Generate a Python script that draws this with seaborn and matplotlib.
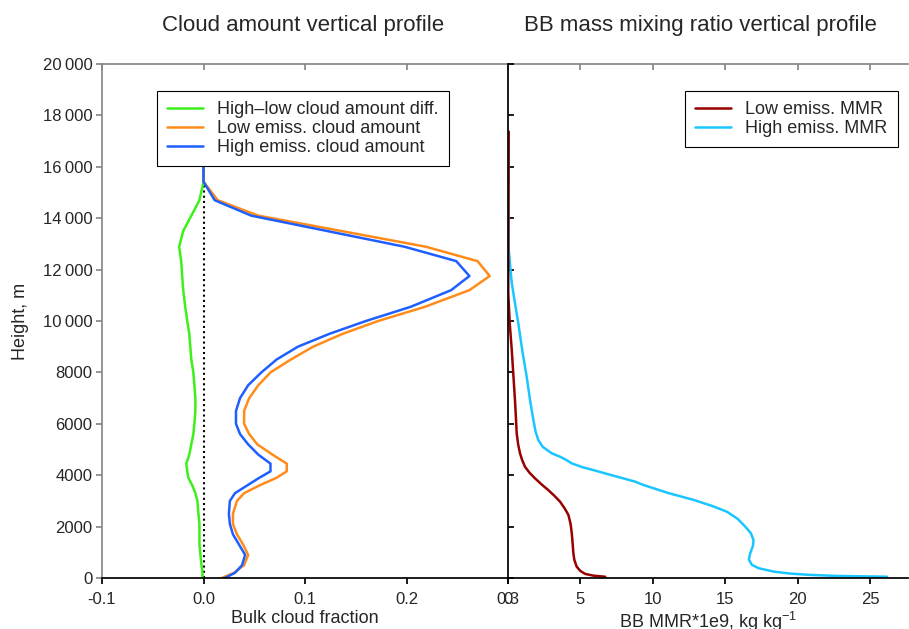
import matplotlib
matplotlib.use("Agg")
import matplotlib.pyplot as plt
import matplotlib.ticker as mticker
import numpy as np
import seaborn as sns

# cloud amount profiles (height in m, bulk cloud fraction)
cloud_height = [0, 200, 500, 900, 1300, 1700, 2100, 2500, 3000, 3300, 3600, 3900,
                4150, 4450, 4800, 5200, 5600, 6000, 6500, 7000, 7500, 8000, 8500,
                9000, 9500, 10000, 10550, 11200, 11750, 12330, 12890, 13500, 14100,
                14700, 15420, 16000]
low_cloud = [0.018, 0.030, 0.040, 0.044, 0.039, 0.033, 0.029, 0.029, 0.033, 0.040,
             0.055, 0.072, 0.082, 0.082, 0.068, 0.053, 0.045, 0.040, 0.040, 0.045,
             0.054, 0.066, 0.086, 0.108, 0.137, 0.172, 0.218, 0.262, 0.282, 0.270,
             0.219, 0.136, 0.054, 0.014, 0.0, 0.0]
high_cloud = [0.021, 0.031, 0.038, 0.041, 0.035, 0.029, 0.026, 0.025, 0.026, 0.031,
              0.043, 0.055, 0.066, 0.066, 0.054, 0.044, 0.036, 0.032, 0.032, 0.036,
              0.044, 0.057, 0.072, 0.093, 0.124, 0.160, 0.204, 0.244, 0.262, 0.249,
              0.198, 0.122, 0.047, 0.011, 0.0, 0.0]
diff_cloud = [-0.001, -0.001, -0.002, -0.003, -0.004, -0.004, -0.004, -0.005, -0.006,
              -0.008, -0.011, -0.015, -0.016, -0.017, -0.014, -0.012, -0.010, -0.009,
              -0.008, -0.008, -0.009, -0.010, -0.012, -0.013, -0.014, -0.016, -0.018,
              -0.020, -0.021, -0.022, -0.024, -0.020, -0.012, -0.004, 0.0, 0.0]
zero_line = [0.0] * len(cloud_height)

# BB mass mixing ratio profiles (x1e9, kg/kg)
low_mmr_height = [17370, 14000, 12760, 11080, 9900, 8870, 7900, 6930, 6200, 5630,
                  5200, 4850, 4600, 4330, 4100, 3880, 3650, 3420, 3200, 2970, 2700,
                  2450, 2100, 1740, 1350, 960, 700, 440, 280, 160, 90, 50]
low_mmr = [0.05, 0.03, 0.02, 0.02, 0.12, 0.26, 0.37, 0.48, 0.55, 0.60,
           0.70, 0.83, 0.97, 1.17, 1.48, 1.86, 2.30, 2.78, 3.20, 3.59, 3.92,
           4.17, 4.32, 4.40, 4.46, 4.51, 4.58, 4.74, 4.98, 5.32, 5.90, 6.70]
high_mmr_height = [17370, 14000, 12760, 11470, 9910, 8800, 7830, 6930, 6150, 5700,
                   5370, 5100, 4850, 4720, 4600, 4460, 4300, 4200, 4070, 3900, 3750,
                   3620, 3300, 3040, 2800, 2580, 2300, 2000, 1750, 1480, 1250, 960,
                   720, 510, 380, 250, 170, 120, 80, 50]
high_mmr = [0.03, 0.03, 0.05, 0.26, 0.71, 1.00, 1.29, 1.52, 1.75, 1.90,
            2.09, 2.40, 3.02, 3.59, 4.00, 4.40, 5.20, 5.89, 6.70, 7.80, 8.77,
            9.34, 11.10, 12.80, 14.10, 15.10, 15.85, 16.37, 16.75, 16.94, 16.90, 16.71,
            16.62, 16.83, 17.30, 18.33, 19.50, 20.86, 22.70, 26.15]

sns.set_theme(style="white")
plt.rcParams["font.family"] = ["Liberation Sans", "DejaVu Sans"]
plt.rcParams["axes.unicode_minus"] = False
plt.rcParams["mathtext.default"] = "regular"

fig = plt.figure(figsize=(9.09, 6.29), dpi=100)
W, H = 909, 629
ax1 = fig.add_axes([102 / W, 51 / H, 406 / W, 514 / H])
ax2 = fig.add_axes([508 / W, 51 / H, 400 / W, 514 / H])

gray = "#888888"


def height_fmt(v, pos):
    v = int(round(v))
    if v >= 10000:
        return f"{v:,}".replace(",", "\u2009")
    return str(v)


# left panel
sns.lineplot(x=zero_line, y=cloud_height, ax=ax1, sort=False, estimator=None,
             color="black", linestyle=(0, (1, 1.5)), linewidth=1.5)
sns.lineplot(x=diff_cloud, y=cloud_height, ax=ax1, sort=False, estimator=None,
             color="#3cf01a", linewidth=1.8, label="High\u2013low cloud amount diff.")
sns.lineplot(x=low_cloud, y=cloud_height, ax=ax1, sort=False, estimator=None,
             color="#ff8c1a", linewidth=1.8, label="Low emiss. cloud amount")
sns.lineplot(x=high_cloud, y=cloud_height, ax=ax1, sort=False, estimator=None,
             color="#1f5fff", linewidth=1.8, label="High emiss. cloud amount")

ax1.set_xlim(-0.1, 0.3)
ax1.set_ylim(0, 20000)
ax1.set_xticks([-0.1, 0.0, 0.1, 0.2, 0.3])
ax1.xaxis.set_major_formatter(mticker.FormatStrFormatter("%.1f"))
ax1.set_yticks(np.arange(0, 20001, 2000))
ax1.yaxis.set_major_formatter(mticker.FuncFormatter(height_fmt))
for s in ["top", "right"]:
    ax1.spines[s].set_visible(False)
ax1.spines["left"].set_color(gray)
ax1.spines["bottom"].set_color("black")
ax1.tick_params(axis="y", left=True, direction="out", length=4, color=gray,
                labelsize=12, pad=3)
ax1.tick_params(axis="x", bottom=True, direction="out", length=4, color="black",
                labelsize=12, pad=6)
top1 = ax1.secondary_xaxis("top")
top1.set_xticks([-0.1, 0.0, 0.1, 0.2, 0.3])
top1.tick_params(direction="in", length=4, color=gray, labeltop=False)
top1.spines["top"].set_color(gray)
ax1.set_xlabel("Bulk cloud fraction", fontsize=13, labelpad=2)
ax1.set_ylabel("Height, m", fontsize=13, labelpad=10)
ax1.set_title("Cloud amount vertical profile", fontsize=16, pad=24, x=0.496)
leg1 = ax1.legend(loc="upper left", bbox_to_anchor=(0.135, 0.947), borderaxespad=0,
                  fontsize=13, frameon=True, fancybox=False, edgecolor="black",
                  framealpha=1, handlelength=2.0, labelspacing=0.11,
                  borderpad=0.55, handletextpad=0.8)
leg1.get_frame().set_linewidth(0.8)

# right panel
sns.lineplot(x=high_mmr, y=high_mmr_height, ax=ax2, sort=False, estimator=None,
             color="#1ac6ff", linewidth=1.8, label="High emiss. MMR")
sns.lineplot(x=low_mmr, y=low_mmr_height, ax=ax2, sort=False, estimator=None,
             color="#990000", linewidth=1.8, label="Low emiss. MMR")

ax2.set_xlim(0, 27.6)
ax2.set_ylim(0, 20000)
ax2.set_xticks([0, 5, 10, 15, 20, 25])
ax2.set_yticks(np.arange(0, 20001, 2000))
ax2.tick_params(axis="y", left=True, direction="in", length=4, color="black",
                labelleft=False)
ax2.tick_params(axis="x", bottom=True, direction="out", length=4, color="black",
                labelsize=12, pad=6)
for s in ["top", "right"]:
    ax2.spines[s].set_visible(False)
ax2.spines["left"].set_color("black")
ax2.spines["bottom"].set_color("black")
top2 = ax2.secondary_xaxis("top")
top2.set_xticks([0, 5, 10, 15, 20, 25])
top2.tick_params(direction="in", length=4, color=gray, labeltop=False)
top2.spines["top"].set_color(gray)
ax2.set_xlabel("BB MMR*1e9, kg kg$^{-1}$", fontsize=13, labelpad=2)
ax2.set_ylabel("")
ax2.set_title("BB mass mixing ratio vertical profile", fontsize=16, pad=24, x=0.481)
handles, labels = ax2.get_legend_handles_labels()
leg2 = ax2.legend(handles[::-1], labels[::-1], loc="upper left",
                  bbox_to_anchor=(0.4425, 0.947), borderaxespad=0,
                  fontsize=13, frameon=True, fancybox=False, edgecolor="black",
                  framealpha=1, handlelength=2.0, labelspacing=0.11,
                  borderpad=0.55, handletextpad=0.8)
leg2.get_frame().set_linewidth(0.8)

fig.savefig("out.png", dpi=100)
